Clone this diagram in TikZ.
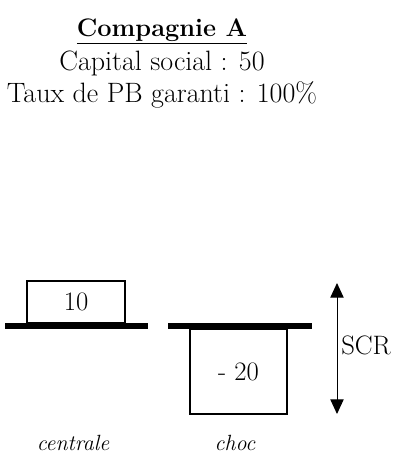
\documentclass[tikz,border=0pt]{standalone}
\usetikzlibrary{positioning,arrows.meta}

\tikzset{
  valbox/.style={draw, line width=1.5pt, inner sep=0pt},
  bar/.style={line width=4.5pt},
  txt/.style={font=\fontsize{21}{25}\selectfont, inner sep=0pt},
  head/.style={font=\fontsize{19}{23}\selectfont\bfseries, inner sep=0pt},
  num/.style={font=\fontsize{20}{24}\selectfont, inner sep=0pt},
  lab/.style={font=\fontsize{16.5}{20}\selectfont\itshape, inner sep=0pt},
  tip/.style={{Triangle[width=10pt,length=11pt]}-{Triangle[width=10pt,length=11pt]}, line width=0.75pt},
}

\begin{document}
\begin{tikzpicture}[x=0.75pt,y=-0.75pt]
  \useasboundingbox (0,0) rectangle (395,454);

  % en-tete
  \node[head, anchor=base] (titre) at (162,36) {\underline{Compagnie A}};
  \node[txt, anchor=base] (capital) at (162,70) {Capital social : 50};
  \node[txt, anchor=base] (taux) at (162,102) {Taux de PB garanti : 100\%};

  % centrale
  \draw[bar] (5,326) -- (148,326);
  \node[valbox, num, minimum width=73.5pt, minimum height=31.5pt] (central) at (76,302) {10};
  \node[lab] (centrale) at (73,443) {centrale};

  % choc
  \draw[bar] (168,326) -- (312,326);
  \node[valbox, num, minimum width=72.75pt, minimum height=63.75pt] (chocbox) at (238.5,371.5) {- 20};
  \node[lab] (choc) at (235,443) {choc};

  % SCR
  \coordinate (haut) at (337,283);
  \coordinate (bas) at (337,414);
  \draw[tip] (haut) -- (bas);
  \node[num, anchor=west] (scr) at (341,345) {SCR};
\end{tikzpicture}
\end{document}
